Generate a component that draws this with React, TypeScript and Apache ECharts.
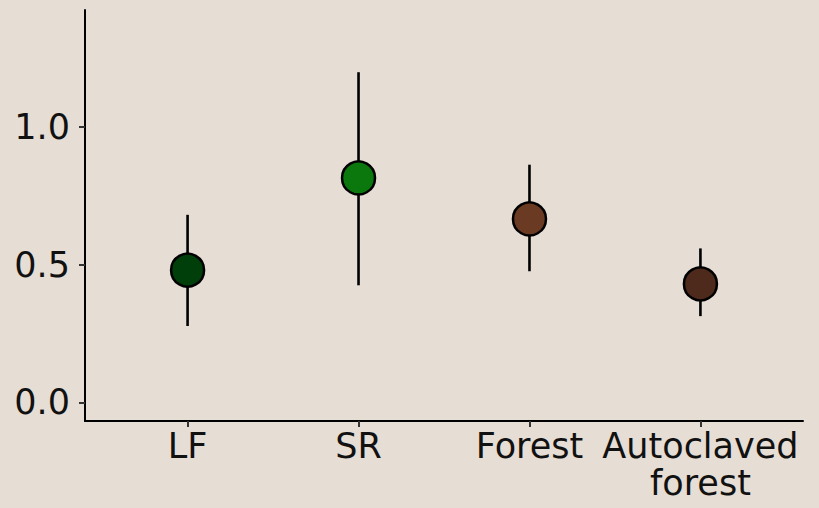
import React, { useEffect, useRef } from "react";
import * as echarts from "echarts";

const categories = ["LF", "SR", "Forest", "Autoclaved\nforest"];
const means = [0.48, 0.815, 0.666, 0.43];
const lower = [0.277, 0.425, 0.476, 0.313];
const upper = [0.681, 1.199, 0.863, 0.559];
const colors = ["#013f0a", "#0b780e", "#6b3a22", "#4d2a1b"];
const yTicks = [0, 0.5, 1.0];

export default function App() {
  const ref = useRef<HTMLDivElement>(null);
  useEffect(() => {
    document.body.style.margin = "0";
    const chart = echarts.init(ref.current!, null, { renderer: "svg" });
    const font = "DejaVu Sans";
    const xs = categories.map((_, i) => i + 1);
    chart.setOption({
      animation: false,
      backgroundColor: "#e6ddd4",
      grid: { left: 85, right: 16, top: 10, bottom: 87 },
      xAxis: {
        type: "value",
        min: 0.4,
        max: 4.6,
        splitLine: { show: false },
        axisLine: { show: true, onZero: false, lineStyle: { color: "#000", width: 2 } },
        axisTick: { show: true, customValues: xs, length: 6, lineStyle: { color: "#333", width: 2 } },
        axisLabel: {
          customValues: xs,
          formatter: (v: number) => categories[Math.round(v) - 1] ?? "",
          fontFamily: font,
          fontSize: 35,
          color: "#111",
          lineHeight: 37,
          margin: 6,
        },
      },
      yAxis: {
        type: "value",
        min: -0.068,
        max: 1.425,
        splitLine: { show: false },
        axisLine: { show: true, onZero: false, lineStyle: { color: "#000", width: 2 } },
        axisTick: { show: true, customValues: yTicks, length: 6, lineStyle: { color: "#333", width: 2 } },
        axisLabel: {
          customValues: yTicks,
          formatter: (v: number) => v.toFixed(1),
          fontFamily: font,
          fontSize: 35,
          color: "#111",
          margin: 15,
        },
      },
      series: [
        {
          type: "custom",
          data: xs.map((x, i) => [x, lower[i], upper[i]]),
          renderItem: (params: any, api: any) => {
            const p1 = api.coord([api.value(0), api.value(1)]);
            const p2 = api.coord([api.value(0), api.value(2)]);
            return {
              type: "line",
              shape: { x1: p1[0], y1: p1[1], x2: p2[0], y2: p2[1] },
              style: { stroke: "#000", lineWidth: 2.6 },
            };
          },
          z: 1,
        },
        {
          type: "scatter",
          symbolSize: 33,
          data: xs.map((x, i) => ({
            value: [x, means[i]],
            itemStyle: { color: colors[i], borderColor: "#000", borderWidth: 2.5, opacity: 1 },
          })),
          z: 2,
        },
      ],
    });
    return () => chart.dispose();
  }, []);
  return <div ref={ref} style={{ width: 819, height: 508 }} />;
}
